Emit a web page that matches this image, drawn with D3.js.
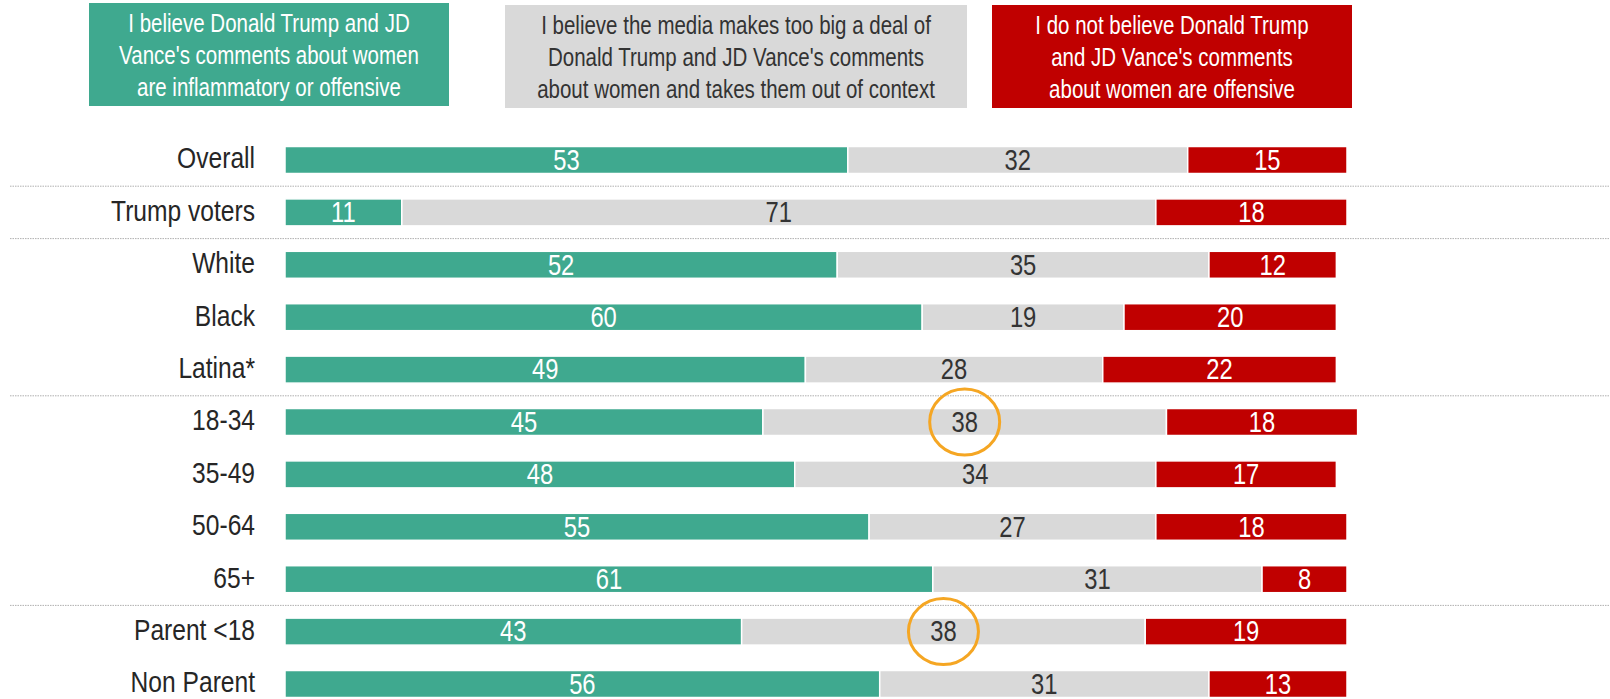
<!DOCTYPE html>
<html>
<head>
<meta charset="utf-8">
<script src="https://cdn.jsdelivr.net/npm/d3@7"></script>
<style>
  body { margin: 0; background: #fff; }
  svg text { font-family: "Arial Narrow", "Liberation Sans", Arial, sans-serif; }
</style>
</head>
<body>
<div id="chart"></div>
<script>
var width = 1610;
var height = 699;

// rows, top to bottom
var categories = ["Overall", "Trump voters", "White", "Black", "Latina*", "18-34", "35-49", "50-64", "65+", "Parent <18", "Non Parent"];
var believeOffensive = [53, 11, 52, 60, 49, 45, 48, 55, 61, 43, 56];
var mediaTooBig = [32, 71, 35, 19, 28, 38, 34, 27, 31, 38, 31];
var notOffensive = [15, 18, 12, 20, 22, 18, 17, 18, 8, 19, 13];

var legendLines = [
    ["I believe Donald Trump and JD", "Vance's comments about women", "are inflammatory or offensive"],
    ["I believe the media makes too big a deal of", "Donald Trump and JD Vance's comments", "about women and takes them out of context"],
    ["I do not believe Donald Trump", "and JD Vance's comments", "about women are offensive"]
];
var colors = ["#3fa98f", "#d9d9d9", "#c00000"];
var textColors = ["#ffffff", "#333333", "#ffffff"];

// dotted separators drawn below these rows
var separatorsAfter = ["Overall", "Trump voters", "Latina*", "65+"];
// circled values (row, series index)
var highlights = [["18-34", 1], ["Parent <18", 1]];

// fake Arial Narrow by squeezing Liberation Sans
var narrow = 0.82;
function squeeze(x, y) {
    return "translate(" + x + "," + y + ") scale(" + narrow + ",1)";
}

var svgCanvas = d3.select("#chart")
    .append("svg")
    .attr("width", width)
    .attr("height", height);

var xScale = d3.scaleLinear()
    .domain([0, 100])
    .range([285, 1347]);

var yScale = d3.scalePoint()
    .domain(categories)
    .range([160, 684]);

var barH = 27;
var step = yScale.step();

// build stacked table
var table = categories.map(function(c, i) {
    return { cat: c, v0: believeOffensive[i], v1: mediaTooBig[i], v2: notOffensive[i] };
});
var stack = d3.stack().keys(["v0", "v1", "v2"])(table);

// legend boxes
var legendX = [[89, 449], [505, 967], [992, 1352]];
legendLines.forEach(function(lines, k) {
    var g = svgCanvas.append("g").attr("class", "legend");
    g.append("rect")
        .attr("x", legendX[k][0])
        .attr("y", k == 0 ? 3 : 5)
        .attr("width", legendX[k][1] - legendX[k][0])
        .attr("height", 103)
        .attr("fill", colors[k]);
    g.selectAll("text")
        .data(lines)
        .enter()
        .append("text")
        .attr("transform", function(d, j) {
            return squeeze((legendX[k][0] + legendX[k][1]) / 2, (k == 0 ? 23 : 25) + j * 32);
        })
        .attr("text-anchor", "middle")
        .attr("dominant-baseline", "central")
        .attr("font-size", 25)
        .attr("fill", textColors[k])
        .text(function(d) { return d; });
});

// separators
svgCanvas.selectAll("line.sep")
    .data(separatorsAfter)
    .enter()
    .append("line")
    .attr("class", "sep")
    .attr("x1", 10)
    .attr("x2", 1610)
    .attr("y1", function(d) { return yScale(d) + step / 2; })
    .attr("y2", function(d) { return yScale(d) + step / 2; })
    .attr("stroke", "#b0b0b0")
    .attr("stroke-width", 1)
    .attr("stroke-dasharray", "1.5,1");

// category labels
svgCanvas.selectAll("text.cat")
    .data(categories)
    .enter()
    .append("text")
    .attr("class", "cat")
    .attr("transform", function(d) { return squeeze(255, yScale(d) - 2); })
    .attr("text-anchor", "end")
    .attr("dominant-baseline", "central")
    .attr("font-size", 30)
    .attr("fill", "#262626")
    .text(function(d) { return d; });

// bars
stack.forEach(function(layer, k) {
    var g = svgCanvas.append("g").attr("class", "series" + k);
    g.selectAll("rect")
        .data(layer)
        .enter()
        .append("rect")
        .attr("x", function(d) { return xScale(d[0]); })
        .attr("y", function(d) { return yScale(d.data.cat) - barH / 2; })
        .attr("width", function(d) { return xScale(d[1]) - xScale(d[0]); })
        .attr("height", barH)
        .attr("fill", colors[k])
        .attr("stroke", "#ffffff")
        .attr("stroke-width", 1.5);
    g.selectAll("text")
        .data(layer)
        .enter()
        .append("text")
        .attr("transform", function(d) {
            return squeeze((xScale(d[0]) + xScale(d[1])) / 2, yScale(d.data.cat));
        })
        .attr("text-anchor", "middle")
        .attr("dominant-baseline", "central")
        .attr("font-size", 29)
        .attr("fill", textColors[k])
        .text(function(d) { return d[1] - d[0]; });
});

// orange circles
svgCanvas.selectAll("ellipse.hl")
    .data(highlights)
    .enter()
    .append("ellipse")
    .attr("class", "hl")
    .attr("cx", function(d) {
        var s = stack[d[1]][categories.indexOf(d[0])];
        return (xScale(s[0]) + xScale(s[1])) / 2;
    })
    .attr("cy", function(d) { return yScale(d[0]); })
    .attr("rx", 35)
    .attr("ry", 33)
    .attr("fill", "none")
    .attr("stroke", "#f5a623")
    .attr("stroke-width", 3);
</script>
</body>
</html>
